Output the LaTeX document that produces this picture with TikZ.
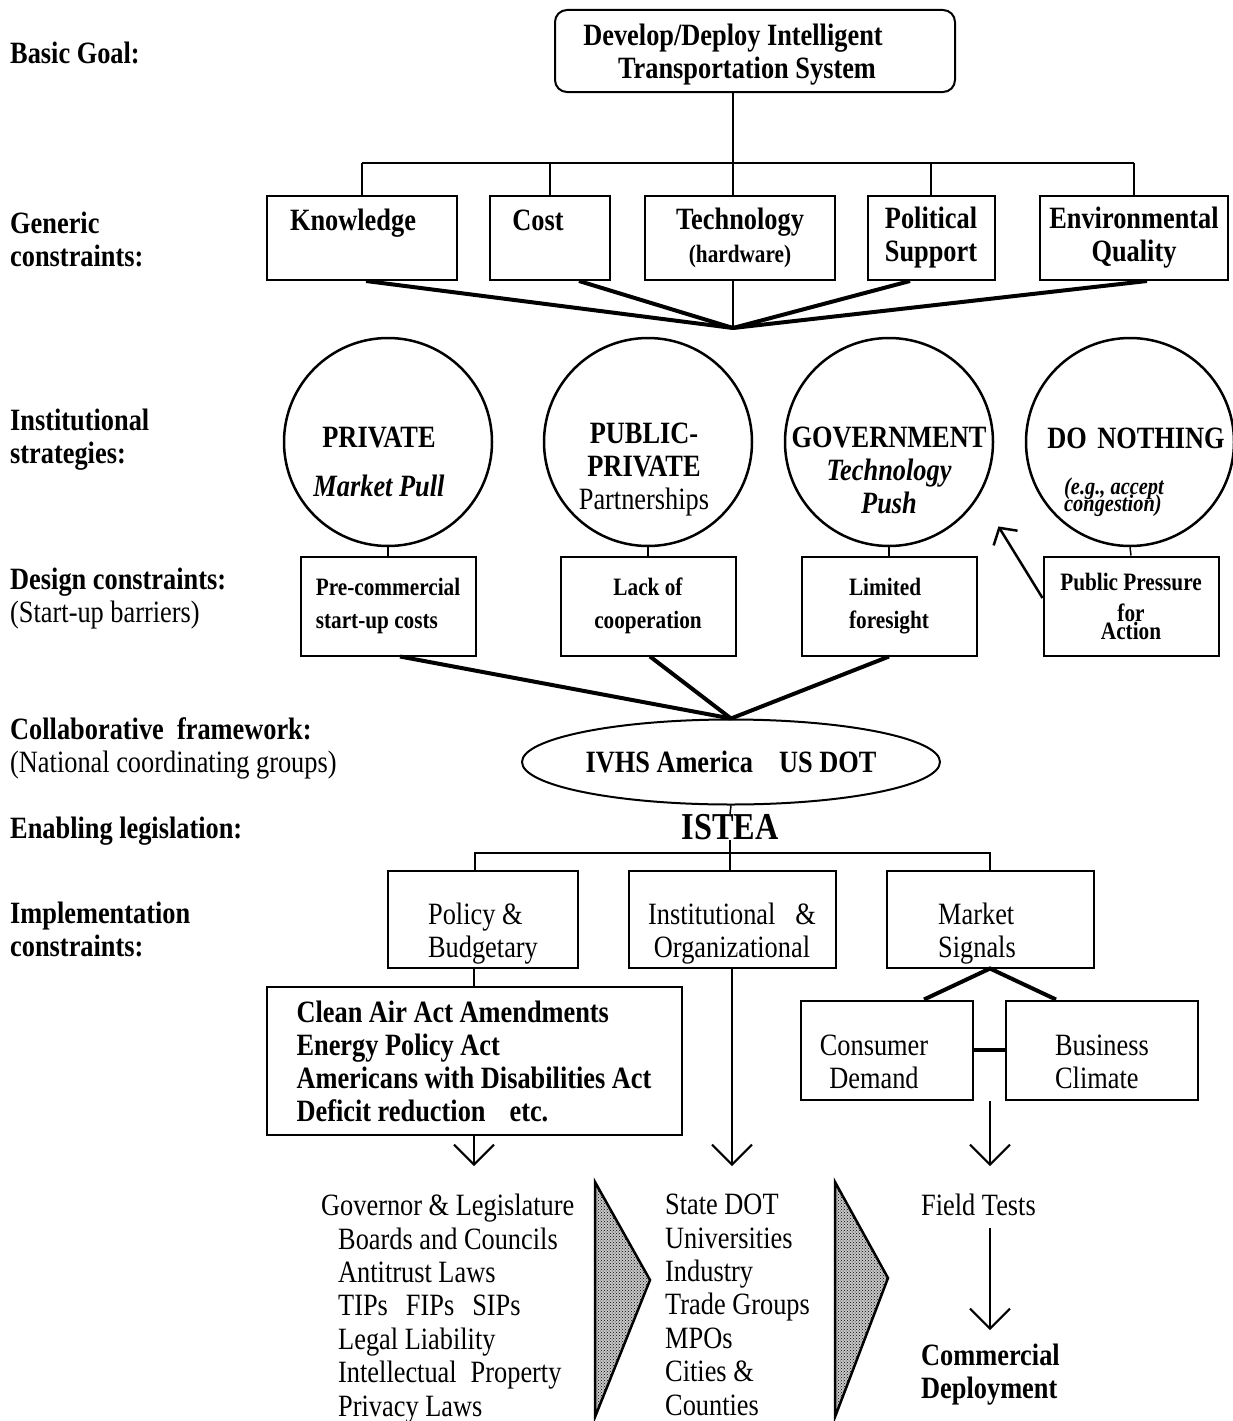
\documentclass[tikz,border=0pt]{standalone}
\usepackage{fontspec}
\setmainfont{Liberation Serif}[FakeStretch=0.85]
\usetikzlibrary{arrows.meta,shapes.geometric,patterns}
\newcommand{\tightlines}{\setlength{\lineskiplimit}{-30pt}\setlength{\lineskip}{0pt}}
\newcommand{\dropline}[1]{\rule{0pt}{#1}}

\begin{document}
\begin{tikzpicture}[
        x=1pt, y=-1pt,                       % 坐标按像素
        every node/.style={inner sep=0pt, align=center,
                           font=\fontsize{31}{33}\selectfont},
        boldtext/.style={font=\fontsize{31}{33}\selectfont\bfseries},
        dtext/.style={font=\fontsize{25}{33}\selectfont\bfseries},
        box/.style={draw, line width=2pt},
        gbox/.style={box, boldtext, minimum height=84},
        dbox/.style={box, dtext, minimum width=175, minimum height=99},
        ibox/.style={box, minimum height=97},
        strategy/.style={circle, draw, line width=2.5pt, minimum size=208},
        rowlabel/.style={boldtext, anchor=west, align=left},
        itemlist/.style={anchor=north west, align=left,
                         font=\fontsize{31}{33.4}\selectfont},
        thinline/.style={line width=1.5pt},
        fanline/.style={line width=4pt, line join=miter},
        >={Straight Barb[length=20pt,width=40pt]},
        arrow/.style={->, line width=2pt},
        chevron/.style={draw, line width=2.5pt, preaction={fill=black!22},
                        pattern=crosshatch dots}
    ]
    \useasboundingbox (0,0) rectangle (1233,1421);

    % 左侧标题
    \node[rowlabel] (l-goal) at (10,53)  {Basic Goal:};
    \node[rowlabel] (l-gen)  at (10,239) {Generic\\constraints:};
    \node[rowlabel] (l-inst) at (10,440) {Institutional\\strategies:};
    \node[rowlabel] (l-des)  at (10,599) {Design constraints:\\{\mdseries(Start-up barriers)}};
    \node[rowlabel] (l-col)  at (10,748) {Collaborative\ \ framework:\\{\mdseries(National coordinating groups)}};
    \node[rowlabel] (l-leg)  at (10,831) {Enabling legislation:};
    \node[rowlabel] (l-imp)  at (10,929) {Implementation\\constraints:};

    % 目标
    \node[box, rounded corners=12pt, minimum width=400, minimum height=82] (goal) at (755,51) {};
    \node[boldtext] (goal-t) at (733,55) {Develop/Deploy Intelligent\\\hspace*{28pt}Transportation System};

    % 一般约束
    \coordinate (fork1) at (733,163);
    \node[gbox, minimum width=190] (know) at (362,238) {\dropline{28pt}Knowledge\hspace*{18pt}\\\strut};
    \node[gbox, minimum width=120] (cost) at (550,238) {\dropline{28pt}Cost\hspace*{24pt}\\\strut};
    \node[gbox, minimum width=190] (tech) at (740,238) {Technology\\{\fontsize{25}{33}\selectfont(hardware)}};
    \node[gbox, minimum width=127] (pol)  at (931,238) {Political\\Support};
    \node[gbox, minimum width=188] (env)  at (1134,238) {Environmental\\Quality};

    \draw[thinline] (goal.south -| fork1) -- (tech.north -| fork1);
    \draw[thinline] (know.north |- fork1) -- (env.north |- fork1);
    \foreach \b in {know,cost,pol,env}
        \draw[thinline] (\b.north) -- (\b.north |- fork1);

    \coordinate (hub1) at (733,328);
    \draw[fanline] ([xshift=4pt]know.south) -- (hub1);
    \draw[fanline] ([xshift=29pt]cost.south) -- (hub1);
    \draw[thinline] (tech.south -| hub1) -- (hub1);
    \draw[fanline] ([xshift=-21pt]pol.south) -- (hub1);
    \draw[fanline] ([xshift=13pt]env.south) -- (hub1);

    % 策略
    \node[strategy] (priv) at (388,442) {};
    \node[strategy] (pub)  at (648,442) {};
    \node[strategy] (gov)  at (889,442) {};
    \node[strategy] (none) at (1130,442) {};
    \node[boldtext] (priv-t) at (379,462) {PRIVATE\\[16pt]\textit{Market Pull}};
    \node[boldtext] (pub-t)  at (644,470) {PUBLIC-\\PRIVATE\\{\mdseries Partnerships}};
    \node[boldtext] (gov-t)  at (889,470) {GOVERNMENT\\\textit{Technology}\\\textit{Push}};
    \node[boldtext] (none-t) at (1136,438) {DO\hspace{4pt} NOTHING};
    \node[align=left, font=\fontsize{24}{17}\selectfont\bfseries\itshape\tightlines]
        (none-e) at (1114,497) {(e.g., accept\\congestion)};

    % 设计约束
    \node[dbox, align=left] (pre)   at (388,606) {Pre-commercial\\start-up costs};
    \node[dbox]             (lack)  at (648,606) {Lack of\\cooperation};
    \node[dbox, align=left] (lim)   at (889,606) {Limited\\foresight};
    \node[dbox]             (press) at (1131,606) {Public Pressure\\[-2pt]for\\[-15pt]Action};
    \foreach \c/\b in {priv/pre,pub/lack,gov/lim,none/press}
        \draw[thinline] (\c.south) -- (\b.north);
    \draw[line width=2.5pt, -{Straight Barb[length=12pt,width=28pt]}]
        ([yshift=8pt]press.west) -- ([shift={(35,10)}]gov.south east);

    % 协作框架
    \node[ellipse, draw, line width=2pt, minimum width=418, minimum height=85, boldtext]
        (ivhs) at (731,762) {IVHS America\hspace{26pt}US DOT};
    \draw[fanline] ([xshift=12pt]pre.south) -- (ivhs.north);
    \draw[fanline] ([xshift=2pt]lack.south) -- (ivhs.north);
    \draw[fanline] (lim.south) -- (ivhs.north);

    \node[font=\fontsize{38}{40}\selectfont\bfseries] (istea) at (730,827) {ISTEA};
    \draw[thinline] (ivhs.south) -- (istea.north);

    % 实施约束
    \coordinate (fork3) at (733,853);
    \node[ibox, align=left, minimum width=190] (budget) at (483,919) {\dropline{50pt}Policy \&\\Budgetary};
    \node[ibox, minimum width=207] (inst) at (732,919) {\dropline{50pt}Institutional\hspace{20pt}\&\\Organizational};
    \node[ibox, align=left, minimum width=207] (mkt) at (990,919) {\dropline{50pt}Market\\Signals\hspace*{26pt}};
    \draw[thinline] (istea.south) -- (istea.south |- inst.north);
    \draw[thinline] ([xshift=-8pt]budget.north) |- (fork3) -| (mkt.north);

    \node[box, boldtext, align=left, minimum width=415, minimum height=148] (acts) at (474,1061)
        {Clean Air Act Amendments\\Energy Policy Act\\Americans with Disabilities Act\hspace*{22pt}\\Deficit reduction\hspace{24pt}etc.};
    \draw[thinline] (acts.north |- budget.south) -- (acts.north);

    \node[ibox, minimum width=172, minimum height=99] (cons) at (887,1050) {\dropline{44pt}Consumer\hspace*{26pt}\\Demand\hspace*{26pt}};
    \node[ibox, align=left, minimum width=192, minimum height=99] (bus) at (1102,1050) {\dropline{44pt}Business\\Climate};
    \draw[fanline] ([xshift=37pt]cons.north) -- (mkt.south) -- ([xshift=-46pt]bus.north);
    \draw[fanline] (cons.east) -- (bus.west);

    % 箭头
    \coordinate (tips) at (0,1166);
    \draw[arrow] (acts.south) -- (acts.south |- tips);
    \draw[arrow] (inst.south) -- (inst.south |- tips);
    \draw[arrow] (cons.south -| mkt.south) -- (mkt.south |- tips);

    % 列表
    \node[itemlist] (gov-list) at (321,1194) {Governor \& Legislature\\
        \hspace*{17pt}Boards and Councils\\
        \hspace*{17pt}Antitrust Laws\\
        \hspace*{17pt}TIPs\hspace{18pt}FIPs\hspace{18pt}SIPs\\
        \hspace*{17pt}Legal Liability\\
        \hspace*{17pt}Intellectual\hspace{14pt}Property\\
        \hspace*{17pt}Privacy Laws};
    \node[itemlist] (org-list) at (665,1194) {State DOT\\Universities\\Industry\\Trade Groups\\MPOs\\Cities \&\\Counties};
    \node[anchor=west] (field) at (921,1205) {Field Tests};
    \node[boldtext, anchor=north west, align=left] (comm) at (921,1344) {Commercial\\Deployment};
    \draw[arrow, shorten <=12pt, shorten >=14pt] (field.south -| mkt.south) -- (comm.north -| mkt.south);

    \draw[chevron] (595,1182) -- (650,1280) -- (595,1417) -- cycle;
    \draw[chevron] (835,1182) -- (888,1278) -- (835,1417) -- cycle;
\end{tikzpicture}
\end{document}
